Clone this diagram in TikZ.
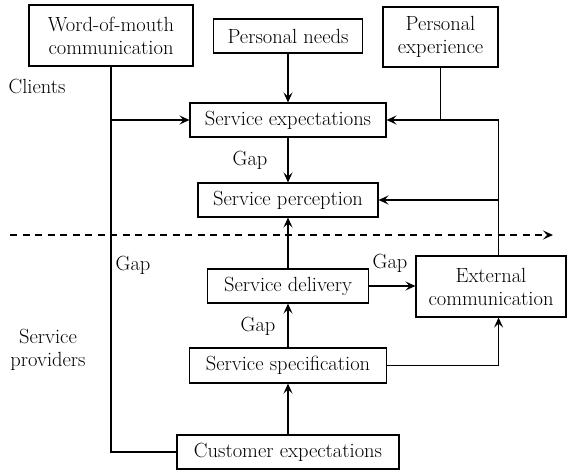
\documentclass[tikz,border=0pt]{standalone}
\usetikzlibrary{arrows.meta,calc}
\begin{document}
\begin{tikzpicture}[x=1pt,y=-1pt,
  box/.style={draw,line width=1.1pt,inner sep=0pt,align=center,font=\fontsize{20.5}{23}\selectfont},
  lbl/.style={inner sep=0pt,align=center,font=\fontsize{20.5}{23}\selectfont},
  conn/.style={line width=1.5pt,-{Stealth[length=10pt,width=9pt,inset=4pt]}},
  plain/.style={line width=1.5pt}]
\useasboundingbox (0,0) rectangle (576,470);
\node[box,minimum width=164pt,minimum height=61pt] (wom) at (111,35.5) {Word-of-mouth\\communication};
\node[box,minimum width=149pt,minimum height=34pt] (pn) at (288,36) {Personal needs};
\node[box,minimum width=115pt,minimum height=60pt] (pe) at (440.5,37) {Personal\\experience};
\node[box,minimum width=196pt,minimum height=34pt] (se) at (288,120) {Service expectations};
\node[box,minimum width=180pt,minimum height=34pt] (sp) at (288,200) {Service perception};
\node[box,minimum width=161pt,minimum height=34pt] (sd) at (288,286) {Service delivery};
\node[box,minimum width=150pt,minimum height=61pt] (ec) at (491,286.5) {External\\communication};
\node[box,minimum width=197pt,minimum height=35pt] (ss) at (288,365.5) {Service specification};
\node[box,minimum width=222pt,minimum height=34pt] (ce) at (288,452) {Customer expectations};
\node[lbl] (clients) at (37,87) {Clients};
\node[lbl] (prov) at (48,350) {Service\\providers};
\node[lbl] (gap1) at (250,160) {Gap};
\node[lbl] (gap2) at (133,265) {Gap};
\node[lbl] (gap3) at (390,263) {Gap};
\node[lbl] (gap4) at (258,326) {Gap};
\coordinate (dl) at (10,235);
\coordinate (dr) at (553,235);
\draw[line width=1.3pt,dash pattern=on 7pt off 5.5pt,-{Stealth[length=10pt,width=9pt,inset=4pt]}] (dl) -- (dr);
% word of mouth
\coordinate (womb) at (wom.south |- ce.west);
\draw[plain] (wom.south) -- (womb) -- (ce.west);
\draw[conn] (wom.south |- se.west) -- (se.west);
\draw[conn] (pn.south) -- (se.north);
\draw[conn] (se.south) -- (sp.north);
% personal experience & external communication
\coordinate (ecn) at (pe.east |- ec.north);
\coordinate (corner) at (pe.east |- se.east);
\draw[plain] (pe.south) -- (pe.south |- se.east);
\draw[conn] (ecn) -- (corner) -- (se.east);
\draw[conn] (pe.east |- sp.east) -- (sp.east);
% provider side
\draw[conn] (ce.north) -- (ss.south);
\draw[conn] (ss.north) -- (sd.south);
\draw[conn] (sd.north) -- (sp.south);
\draw[conn] (sd.east) -- (sd.east -| ec.west);
\coordinate (ecs) at (pe.east |- ec.south);
\draw[conn] (ss.east) -- (ss.east -| ecs) -- (ecs);
\end{tikzpicture}
\end{document}
